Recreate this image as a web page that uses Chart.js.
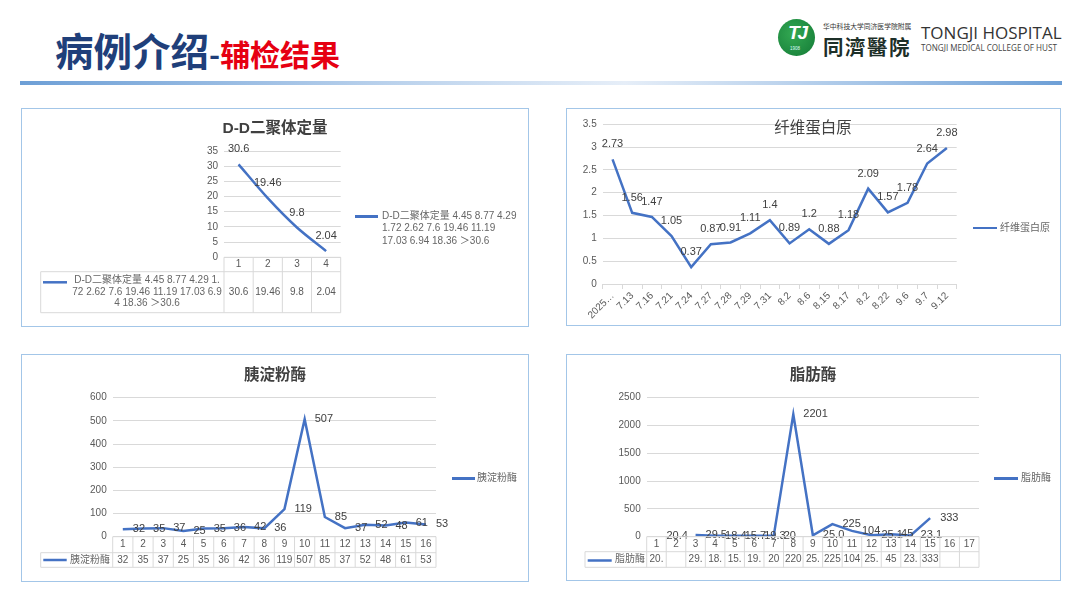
<!DOCTYPE html>
<html>
<head>
<meta charset="utf-8">
<script src="https://cdn.jsdelivr.net/npm/chart.js@4.4.1/dist/chart.umd.min.js"></script>
<style>
  body { margin:0; width:1080px; height:608px; background:#fff; position:relative; overflow:hidden;
         font-family:"Liberation Sans","Noto Sans CJK SC",sans-serif; }
  .abs { position:absolute; white-space:nowrap; }
  .panel { position:absolute; box-sizing:border-box; border:1.5px solid #a3c6e8; }
  canvas { position:absolute; }
  .ttl { position:absolute; font-weight:bold; font-size:15.5px; color:#404040; transform:translate(-50%,-50%); white-space:nowrap; }
  .lg { position:absolute; font-size:10px; color:#666; line-height:12.4px; white-space:nowrap; }
  .lgl { position:absolute; height:2.5px; background:#4472c4; }
</style>
</head>
<body>

<!-- header -->
<div class="abs" style="left:55px;top:27px;line-height:44px;font-family:'Noto Sans CJK SC';font-weight:bold;font-size:38.5px;color:#1f3f7a">病例介绍<span style="font-size:30px">-</span><span style="font-size:30px;color:#e60012">辅检结果</span></div>

<div class="abs" style="left:778px;top:19px;width:37px;height:37px;border-radius:50%;background:radial-gradient(circle at 40% 40%,#33a852,#137a36)"></div>
<div class="abs" style="left:783px;top:22px;width:28px;text-align:center;font:italic bold 19px 'Liberation Sans';color:#fff;letter-spacing:-2px">TJ</div>
<div class="abs" style="left:790px;top:46px;font:4.5px 'Liberation Sans';color:#dff">1908</div>
<div class="abs" style="left:823px;top:21px;font-size:6.8px;color:#333;font-family:'Noto Sans CJK SC'">华中科技大学同济医学院附属</div>
<div class="abs" style="left:823px;top:31px;font-size:20.5px;letter-spacing:1.5px;color:#1d2f28;font-family:'Noto Sans CJK TC';font-weight:bold">同濟醫院</div>
<div class="abs" style="left:921px;top:21px;font-size:17px;color:#333;font-family:'Open Sans'">TONGJI HOSPITAL</div>
<div class="abs" style="left:921px;top:42px;font-size:8.1px;color:#444;font-family:'Open Sans'">TONGJI MEDICAL COLLEGE OF HUST</div>

<div class="abs" style="left:20px;top:81px;width:1042px;height:3.5px;background:linear-gradient(to right,#6d9fd6,#b9d1ec 35%,#e6eef8 58%,#a9c7e8 80%,#6d9fd6)"></div>

<!-- panels -->
<div class="panel" style="left:21px;top:108px;width:508px;height:219px"></div>
<div class="panel" style="left:566px;top:108px;width:495px;height:218px"></div>
<div class="panel" style="left:21px;top:354px;width:508px;height:228px"></div>
<div class="panel" style="left:566px;top:354px;width:495px;height:227px"></div>

<canvas id="dd"  width="508" height="219" style="left:21px;top:108px"></canvas>
<canvas id="fib" width="495" height="218" style="left:566px;top:108px"></canvas>
<canvas id="amy" width="508" height="228" style="left:21px;top:354px"></canvas>
<canvas id="lip" width="495" height="227" style="left:566px;top:354px"></canvas>

<div class="ttl" style="left:275px;top:126px">D-D二聚体定量</div>
<div class="ttl" style="left:813px;top:126px;font-weight:normal">纤维蛋白原</div>
<div class="ttl" style="left:275px;top:373px">胰淀粉酶</div>
<div class="ttl" style="left:813px;top:373px">脂肪酶</div>

<div class="lgl" style="left:355px;top:215px;width:23px"></div>
<div class="lg" id="ddLegend" style="left:382px;top:210px"></div>
<div class="lgl" style="left:973px;top:226.5px;width:24px"></div>
<div class="lg" style="left:1000px;top:221.5px">纤维蛋白原</div>
<div class="lgl" style="left:452px;top:477px;width:23px"></div>
<div class="lg" style="left:477px;top:472px">胰淀粉酶</div>
<div class="lgl" style="left:994px;top:477px;width:24px"></div>
<div class="lg" style="left:1021px;top:472px">脂肪酶</div>

<script>
// ---- data ----
const ddCats = ['1', '2', '3', '4'];
const ddVals = [30.6, 19.46, 9.8, 2.04];
const ddCells = ['30.6', '19.46', '9.8', '2.04'];
const ddLegendLines = ['D-D二聚体定量 4.45 8.77 4.29', '1.72 2.62 7.6 19.46 11.19', '17.03 6.94 18.36 ＞30.6'];
const ddTableLines = ['D-D二聚体定量 4.45 8.77 4.29 1.', '72 2.62 7.6 19.46 11.19 17.03 6.9', '4 18.36 ＞30.6'];

const fibCats = ['2025…', '7.13', '7.16', '7.21', '7.24', '7.27', '7.28', '7.29', '7.31',
                 '8.2', '8.6', '8.15', '8.17', '8.2', '8.22', '9.6', '9.7', '9.12'];
const fibVals = [2.73, 1.56, 1.47, 1.05, 0.37, 0.87, 0.91, 1.11, 1.4,
                 0.89, 1.2, 0.88, 1.18, 2.09, 1.57, 1.78, 2.64, 2.98];

const amyCats = ['1', '2', '3', '4', '5', '6', '7', '8', '9', '10', '11', '12', '13', '14', '15', '16'];
const amyVals = [32, 35, 37, 25, 35, 36, 42, 36, 119, 507, 85, 37, 52, 48, 61, 53];

const lipCats = ['1', '2', '3', '4', '5', '6', '7', '8', '9', '10', '11', '12', '13', '14', '15', '16', '17'];
const lipVals = [20.4, null, 29.5, 18.4, 15.7, 19.3, 20, 2201, 25.0, 225, 104, 25.1, 45, 23.1, 333, null, null];
const lipLabels = ['20.4', '', '29.5', '18.4', '15.7', '19.3', '20', '2201', '25.0', '225', '104', '25.1', '45', '23.1', '333', '', ''];
const lipCells = ['20.', '', '29.', '18.', '15.', '19.', '20', '220', '25.', '225', '104', '25.', '45', '23.', '333', '', ''];

const FONT = '"Liberation Sans","Noto Sans CJK SC",sans-serif';
const BLUE = '#4472c4';

document.getElementById('ddLegend').innerHTML = ddLegendLines.join('<br>');

// value labels next to / above each point
const pointLabels = {
  id: 'pointLabels',
  afterDatasetsDraw(chart, args, o) {
    const ctx = chart.ctx, xs = chart.scales.x, ys = chart.scales.y;
    const data = chart.data.datasets[0].data;
    ctx.save();
    ctx.font = '11px ' + FONT;
    ctx.fillStyle = '#404040';
    ctx.textBaseline = 'middle';
    data.forEach((v, i) => {
      if (v == null) return;
      const txt = o.texts ? o.texts[i] : String(v);
      const x = xs.getPixelForValue(i), y = ys.getPixelForValue(v);
      if (o.pos === 'right') { ctx.textAlign = 'left'; ctx.fillText(txt, x + 10, y); }
      else { ctx.textAlign = 'center'; ctx.fillText(txt, x, y - 15); }
    });
    ctx.restore();
  }
};

// excel style data table under the plot
const dataTable = {
  id: 'dataTable',
  afterDraw(chart, args, o) {
    if (!o.cells) return;
    const ctx = chart.ctx, a = chart.chartArea, xs = chart.scales.x;
    const n = chart.data.labels.length, w = (a.right - a.left) / n;
    const y0 = a.bottom, y1 = y0 + o.headH, y2 = y1 + o.rowH;
    ctx.save();
    ctx.strokeStyle = '#d9d9d9';
    ctx.lineWidth = 1;
    ctx.beginPath();
    ctx.moveTo(a.left, y0); ctx.lineTo(a.right, y0);
    ctx.moveTo(o.left, y1); ctx.lineTo(a.right, y1);
    ctx.moveTo(o.left, y2); ctx.lineTo(a.right, y2);
    for (let i = 0; i <= n; i++) {
      const x = a.left + i * w;
      ctx.moveTo(x, y0); ctx.lineTo(x, y2);
    }
    ctx.moveTo(o.left, y1); ctx.lineTo(o.left, y2);
    ctx.stroke();

    ctx.font = '10px ' + FONT;
    ctx.fillStyle = '#595959';
    ctx.textAlign = 'center';
    ctx.textBaseline = 'middle';
    chart.data.labels.forEach((l, i) => {
      const x = xs.getPixelForValue(i);
      ctx.fillText(l, x, (y0 + y1) / 2);
      ctx.fillText(o.cells[i], x, (y1 + y2) / 2);
    });

    // legend key inside the first cell
    ctx.strokeStyle = BLUE;
    ctx.lineWidth = 2.5;
    ctx.beginPath();
    ctx.moveTo(o.keyX[0], o.keyY); ctx.lineTo(o.keyX[1], o.keyY);
    ctx.stroke();
    ctx.fillStyle = '#666';
    const top = (y1 + y2) / 2 - (o.lines.length - 1) * o.lineH / 2;
    o.lines.forEach((t, i) => ctx.fillText(t, o.textX, top + i * o.lineH));
    ctx.restore();
  }
};

function lineChart(id, labels, values, o) {
  const x = o.xAxis || {
    display: false,
    offset: true
  };
  return new Chart(document.getElementById(id), {
    type: 'line',
    data: {
      labels,
      datasets: [{
        data: values,
        borderColor: BLUE,
        borderWidth: 2.5,
        pointRadius: 0,
        tension: o.tension || 0,
        spanGaps: false
      }]
    },
    options: {
      responsive: false,
      animation: false,
      events: [],
      layout: { padding: o.pad },
      plugins: {
        legend: { display: false },
        title: { display: false },
        tooltip: { enabled: false },
        pointLabels: { pos: o.labelPos, texts: o.texts },
        dataTable: o.table || {}
      },
      scales: {
        x,
        y: {
          min: 0, max: o.yMax,
          ticks: { stepSize: o.step, color: '#595959', font: { size: 10, family: FONT }, padding: 6,
                   callback: v => String(v) },
          grid: { color: '#d9d9d9', drawTicks: false },
          border: { display: false },
          afterFit: s => { s.width = o.yW; s.paddingTop = 0; s.paddingBottom = 0; }
        }
      }
    },
    plugins: [pointLabels, dataTable]
  });
}

lineChart('dd', ddCats, ddVals, {
  yMax: 35, step: 5, yW: 30, tension: 0.3, labelPos: 'above',
  pad: { left: 173, right: 188.3, top: 43, bottom: 69.7 },
  table: { cells: ddCells, headH: 14.4, rowH: 41, left: 19.7, keyX: [22, 46], keyY: 174.3,
           textX: 126, lines: ddTableLines, lineH: 11.5 }
});

lineChart('fib', fibCats, fibVals, {
  yMax: 3.5, step: 0.5, yW: 30, labelPos: 'above',
  pad: { left: 6.7, right: 104.3, top: 16.3, bottom: 2 },
  xAxis: {
    offset: true,
    ticks: { color: '#595959', font: { size: 10, family: FONT }, autoSkip: false,
             minRotation: 45, maxRotation: 45, padding: 1 },
    grid: { offset: true, drawOnChartArea: false, color: '#d9d9d9', tickLength: 5 },
    border: { display: true, color: '#d9d9d9' },
    afterFit: s => { s.height = 40; s.paddingLeft = 0; s.paddingRight = 0; }
  }
});

lineChart('amy', amyCats, amyVals, {
  yMax: 600, step: 100, yW: 30, labelPos: 'right',
  pad: { left: 61.7, right: 93, top: 43.7, bottom: 45.3 },
  table: { cells: amyVals.map(String), headH: 16, rowH: 14.6, left: 19.7, keyX: [22.3, 45.7], keyY: 206,
           textX: 69, lines: ['胰淀粉酶'], lineH: 12 }
});

lineChart('lip', lipCats, lipVals, {
  yMax: 2500, step: 500, yW: 36, labelPos: 'right', texts: lipLabels,
  pad: { left: 44.7, right: 82, top: 43.7, bottom: 44.3 },
  table: { cells: lipCells, headH: 15, rowH: 15.6, left: 19, keyX: [21.7, 45.7], keyY: 206.5,
           textX: 64, lines: ['脂肪酶'], lineH: 12 }
});
</script>
</body>
</html>
